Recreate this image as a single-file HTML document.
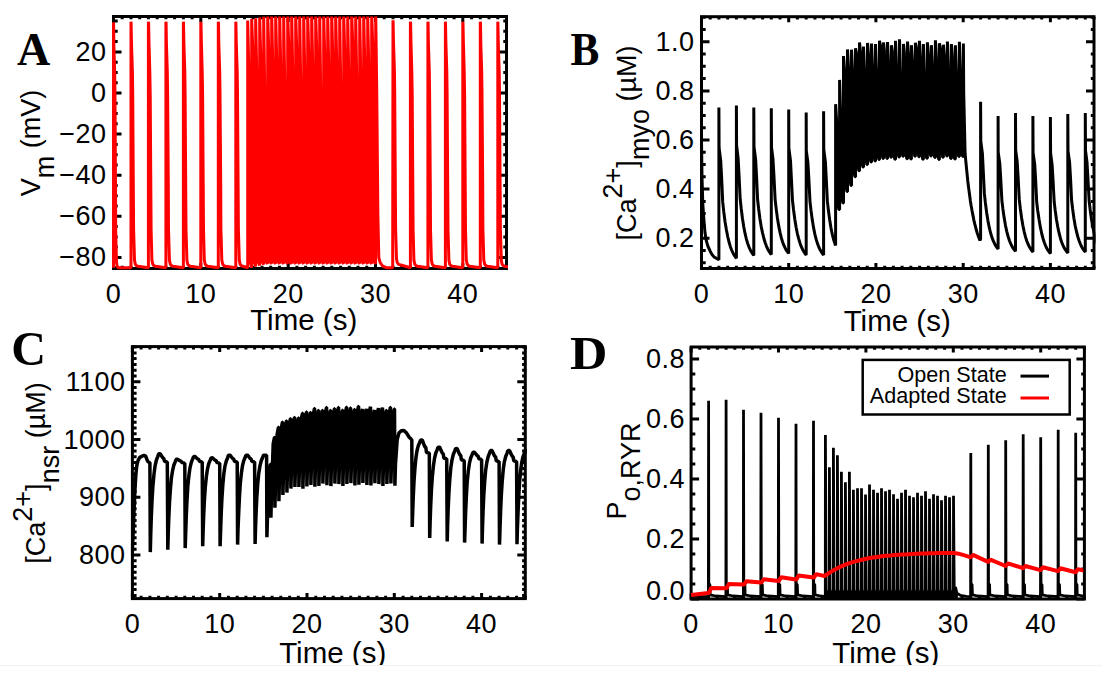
<!DOCTYPE html>
<html><head><meta charset="utf-8"><style>
html,body{margin:0;padding:0;background:#fff;}
svg{display:block;}
text{font-family:"Liberation Sans",sans-serif;fill:#000;}
.tk{font-size:27px;letter-spacing:0.5px;}
.yt{font-size:27px;}
.tt{font-size:29.5px;}
.pl{font-family:"Liberation Serif",serif;font-weight:bold;font-size:46px;}
</style></head><body>
<svg width="1102" height="675" viewBox="0 0 1102 675">
<rect width="1102" height="675" fill="#fff"/>
<defs>
<clipPath id="cA"><rect x="112" y="16.5" width="396" height="253.5"/></clipPath>
<clipPath id="cB"><rect x="700" y="16.7" width="395.5" height="253.3"/></clipPath>
<clipPath id="cC"><rect x="130.9" y="346.6" width="395.9" height="253.5"/></clipPath>
<clipPath id="cD"><rect x="689.6" y="347" width="393.8" height="253.5"/></clipPath>
</defs>
<rect x="113.5" y="16.5" width="393" height="252" fill="none" stroke="#000" stroke-width="3"/>
<path d="M113.5 268.5v-5.5M113.5 16.5v5.5M122.2 268.5v-2.8M122.2 16.5v2.8M131 268.5v-2.8M131 16.5v2.8M139.7 268.5v-2.8M139.7 16.5v2.8M148.4 268.5v-2.8M148.4 16.5v2.8M157.2 268.5v-2.8M157.2 16.5v2.8M165.9 268.5v-2.8M165.9 16.5v2.8M174.6 268.5v-2.8M174.6 16.5v2.8M183.4 268.5v-2.8M183.4 16.5v2.8M192.1 268.5v-2.8M192.1 16.5v2.8M200.8 268.5v-5.5M200.8 16.5v5.5M209.6 268.5v-2.8M209.6 16.5v2.8M218.3 268.5v-2.8M218.3 16.5v2.8M227 268.5v-2.8M227 16.5v2.8M235.8 268.5v-2.8M235.8 16.5v2.8M244.5 268.5v-2.8M244.5 16.5v2.8M253.2 268.5v-2.8M253.2 16.5v2.8M262 268.5v-2.8M262 16.5v2.8M270.7 268.5v-2.8M270.7 16.5v2.8M279.4 268.5v-2.8M279.4 16.5v2.8M288.2 268.5v-5.5M288.2 16.5v5.5M296.9 268.5v-2.8M296.9 16.5v2.8M305.6 268.5v-2.8M305.6 16.5v2.8M314.4 268.5v-2.8M314.4 16.5v2.8M323.1 268.5v-2.8M323.1 16.5v2.8M331.8 268.5v-2.8M331.8 16.5v2.8M340.6 268.5v-2.8M340.6 16.5v2.8M349.3 268.5v-2.8M349.3 16.5v2.8M358 268.5v-2.8M358 16.5v2.8M366.8 268.5v-2.8M366.8 16.5v2.8M375.5 268.5v-5.5M375.5 16.5v5.5M384.2 268.5v-2.8M384.2 16.5v2.8M393 268.5v-2.8M393 16.5v2.8M401.7 268.5v-2.8M401.7 16.5v2.8M410.4 268.5v-2.8M410.4 16.5v2.8M419.2 268.5v-2.8M419.2 16.5v2.8M427.9 268.5v-2.8M427.9 16.5v2.8M436.6 268.5v-2.8M436.6 16.5v2.8M445.4 268.5v-2.8M445.4 16.5v2.8M454.1 268.5v-2.8M454.1 16.5v2.8M462.8 268.5v-5.5M462.8 16.5v5.5M471.6 268.5v-2.8M471.6 16.5v2.8M480.3 268.5v-2.8M480.3 16.5v2.8M489 268.5v-2.8M489 16.5v2.8M497.8 268.5v-2.8M497.8 16.5v2.8M506.5 268.5v-2.8M506.5 16.5v2.8M113.5 267.7h4.2M506.5 267.7h-3.2M113.5 257.4h4.2M506.5 257.4h-3.2M113.5 247.1h4.2M506.5 247.1h-3.2M113.5 236.9h4.2M506.5 236.9h-3.2M113.5 226.6h4.2M506.5 226.6h-3.2M113.5 216.3h4.2M506.5 216.3h-3.2M113.5 206h4.2M506.5 206h-3.2M113.5 195.8h4.2M506.5 195.8h-3.2M113.5 185.5h4.2M506.5 185.5h-3.2M113.5 175.2h4.2M506.5 175.2h-3.2M113.5 164.9h4.2M506.5 164.9h-3.2M113.5 154.7h4.2M506.5 154.7h-3.2M113.5 144.4h4.2M506.5 144.4h-3.2M113.5 134.1h4.2M506.5 134.1h-3.2M113.5 123.8h4.2M506.5 123.8h-3.2M113.5 113.5h4.2M506.5 113.5h-3.2M113.5 103.3h4.2M506.5 103.3h-3.2M113.5 93h4.2M506.5 93h-3.2M113.5 82.7h4.2M506.5 82.7h-3.2M113.5 72.5h4.2M506.5 72.5h-3.2M113.5 62.2h4.2M506.5 62.2h-3.2M113.5 51.9h4.2M506.5 51.9h-3.2M113.5 41.6h4.2M506.5 41.6h-3.2M113.5 31.3h4.2M506.5 31.3h-3.2M113.5 21.1h4.2M506.5 21.1h-3.2M113.5 257.4h8M506.5 257.4h-8M113.5 216.3h8M506.5 216.3h-8M113.5 175.2h8M506.5 175.2h-8M113.5 134.1h8M506.5 134.1h-8M113.5 93h8M506.5 93h-8M113.5 51.9h8M506.5 51.9h-8" stroke="#000" stroke-width="3" fill="none"/>
<rect x="701.5" y="16.7" width="392.5" height="251.8" fill="none" stroke="#000" stroke-width="3"/>
<path d="M701.5 268.5v-5.5M701.5 16.7v5.5M710.2 268.5v-2.8M710.2 16.7v2.8M718.9 268.5v-2.8M718.9 16.7v2.8M727.7 268.5v-2.8M727.7 16.7v2.8M736.4 268.5v-2.8M736.4 16.7v2.8M745.1 268.5v-2.8M745.1 16.7v2.8M753.8 268.5v-2.8M753.8 16.7v2.8M762.6 268.5v-2.8M762.6 16.7v2.8M771.3 268.5v-2.8M771.3 16.7v2.8M780 268.5v-2.8M780 16.7v2.8M788.7 268.5v-5.5M788.7 16.7v5.5M797.4 268.5v-2.8M797.4 16.7v2.8M806.2 268.5v-2.8M806.2 16.7v2.8M814.9 268.5v-2.8M814.9 16.7v2.8M823.6 268.5v-2.8M823.6 16.7v2.8M832.3 268.5v-2.8M832.3 16.7v2.8M841.1 268.5v-2.8M841.1 16.7v2.8M849.8 268.5v-2.8M849.8 16.7v2.8M858.5 268.5v-2.8M858.5 16.7v2.8M867.2 268.5v-2.8M867.2 16.7v2.8M875.9 268.5v-5.5M875.9 16.7v5.5M884.7 268.5v-2.8M884.7 16.7v2.8M893.4 268.5v-2.8M893.4 16.7v2.8M902.1 268.5v-2.8M902.1 16.7v2.8M910.8 268.5v-2.8M910.8 16.7v2.8M919.6 268.5v-2.8M919.6 16.7v2.8M928.3 268.5v-2.8M928.3 16.7v2.8M937 268.5v-2.8M937 16.7v2.8M945.7 268.5v-2.8M945.7 16.7v2.8M954.4 268.5v-2.8M954.4 16.7v2.8M963.2 268.5v-5.5M963.2 16.7v5.5M971.9 268.5v-2.8M971.9 16.7v2.8M980.6 268.5v-2.8M980.6 16.7v2.8M989.3 268.5v-2.8M989.3 16.7v2.8M998.1 268.5v-2.8M998.1 16.7v2.8M1006.8 268.5v-2.8M1006.8 16.7v2.8M1015.5 268.5v-2.8M1015.5 16.7v2.8M1024.2 268.5v-2.8M1024.2 16.7v2.8M1032.9 268.5v-2.8M1032.9 16.7v2.8M1041.7 268.5v-2.8M1041.7 16.7v2.8M1050.4 268.5v-5.5M1050.4 16.7v5.5M1059.1 268.5v-2.8M1059.1 16.7v2.8M1067.8 268.5v-2.8M1067.8 16.7v2.8M1076.6 268.5v-2.8M1076.6 16.7v2.8M1085.3 268.5v-2.8M1085.3 16.7v2.8M1094 268.5v-2.8M1094 16.7v2.8M701.5 262.8h4.2M1094 262.8h-3.2M701.5 250.5h4.2M1094 250.5h-3.2M701.5 238.2h4.2M1094 238.2h-3.2M701.5 225.9h4.2M1094 225.9h-3.2M701.5 213.6h4.2M1094 213.6h-3.2M701.5 201.4h4.2M1094 201.4h-3.2M701.5 189.1h4.2M1094 189.1h-3.2M701.5 176.8h4.2M1094 176.8h-3.2M701.5 164.6h4.2M1094 164.6h-3.2M701.5 152.3h4.2M1094 152.3h-3.2M701.5 140h4.2M1094 140h-3.2M701.5 127.7h4.2M1094 127.7h-3.2M701.5 115.5h4.2M1094 115.5h-3.2M701.5 103.2h4.2M1094 103.2h-3.2M701.5 90.9h4.2M1094 90.9h-3.2M701.5 78.6h4.2M1094 78.6h-3.2M701.5 66.3h4.2M1094 66.3h-3.2M701.5 54.1h4.2M1094 54.1h-3.2M701.5 41.8h4.2M1094 41.8h-3.2M701.5 29.5h4.2M1094 29.5h-3.2M701.5 17.2h4.2M1094 17.2h-3.2M701.5 238.2h8M1094 238.2h-8M701.5 189.1h8M1094 189.1h-8M701.5 140h8M1094 140h-8M701.5 90.9h8M1094 90.9h-8M701.5 41.8h8M1094 41.8h-8" stroke="#000" stroke-width="3" fill="none"/>
<rect x="132.4" y="346.6" width="392.9" height="252" fill="none" stroke="#000" stroke-width="3"/>
<path d="M132.4 598.6v-5.5M132.4 346.6v5.5M141.1 598.6v-2.8M141.1 346.6v2.8M149.9 598.6v-2.8M149.9 346.6v2.8M158.6 598.6v-2.8M158.6 346.6v2.8M167.3 598.6v-2.8M167.3 346.6v2.8M176.1 598.6v-2.8M176.1 346.6v2.8M184.8 598.6v-2.8M184.8 346.6v2.8M193.5 598.6v-2.8M193.5 346.6v2.8M202.2 598.6v-2.8M202.2 346.6v2.8M211 598.6v-2.8M211 346.6v2.8M219.7 598.6v-5.5M219.7 346.6v5.5M228.4 598.6v-2.8M228.4 346.6v2.8M237.2 598.6v-2.8M237.2 346.6v2.8M245.9 598.6v-2.8M245.9 346.6v2.8M254.6 598.6v-2.8M254.6 346.6v2.8M263.4 598.6v-2.8M263.4 346.6v2.8M272.1 598.6v-2.8M272.1 346.6v2.8M280.8 598.6v-2.8M280.8 346.6v2.8M289.6 598.6v-2.8M289.6 346.6v2.8M298.3 598.6v-2.8M298.3 346.6v2.8M307 598.6v-5.5M307 346.6v5.5M315.8 598.6v-2.8M315.8 346.6v2.8M324.5 598.6v-2.8M324.5 346.6v2.8M333.2 598.6v-2.8M333.2 346.6v2.8M341.9 598.6v-2.8M341.9 346.6v2.8M350.7 598.6v-2.8M350.7 346.6v2.8M359.4 598.6v-2.8M359.4 346.6v2.8M368.1 598.6v-2.8M368.1 346.6v2.8M376.9 598.6v-2.8M376.9 346.6v2.8M385.6 598.6v-2.8M385.6 346.6v2.8M394.3 598.6v-5.5M394.3 346.6v5.5M403.1 598.6v-2.8M403.1 346.6v2.8M411.8 598.6v-2.8M411.8 346.6v2.8M420.5 598.6v-2.8M420.5 346.6v2.8M429.3 598.6v-2.8M429.3 346.6v2.8M438 598.6v-2.8M438 346.6v2.8M446.7 598.6v-2.8M446.7 346.6v2.8M455.5 598.6v-2.8M455.5 346.6v2.8M464.2 598.6v-2.8M464.2 346.6v2.8M472.9 598.6v-2.8M472.9 346.6v2.8M481.6 598.6v-5.5M481.6 346.6v5.5M490.4 598.6v-2.8M490.4 346.6v2.8M499.1 598.6v-2.8M499.1 346.6v2.8M507.8 598.6v-2.8M507.8 346.6v2.8M516.6 598.6v-2.8M516.6 346.6v2.8M525.3 598.6v-2.8M525.3 346.6v2.8M132.4 595.4h4.2M525.3 595.4h-3.2M132.4 589.6h4.2M525.3 589.6h-3.2M132.4 583.9h4.2M525.3 583.9h-3.2M132.4 578.1h4.2M525.3 578.1h-3.2M132.4 572.3h4.2M525.3 572.3h-3.2M132.4 566.5h4.2M525.3 566.5h-3.2M132.4 560.8h4.2M525.3 560.8h-3.2M132.4 555h4.2M525.3 555h-3.2M132.4 549.2h4.2M525.3 549.2h-3.2M132.4 543.5h4.2M525.3 543.5h-3.2M132.4 537.7h4.2M525.3 537.7h-3.2M132.4 531.9h4.2M525.3 531.9h-3.2M132.4 526.1h4.2M525.3 526.1h-3.2M132.4 520.4h4.2M525.3 520.4h-3.2M132.4 514.6h4.2M525.3 514.6h-3.2M132.4 508.8h4.2M525.3 508.8h-3.2M132.4 503h4.2M525.3 503h-3.2M132.4 497.2h4.2M525.3 497.2h-3.2M132.4 491.5h4.2M525.3 491.5h-3.2M132.4 485.7h4.2M525.3 485.7h-3.2M132.4 479.9h4.2M525.3 479.9h-3.2M132.4 474.1h4.2M525.3 474.1h-3.2M132.4 468.4h4.2M525.3 468.4h-3.2M132.4 462.6h4.2M525.3 462.6h-3.2M132.4 456.8h4.2M525.3 456.8h-3.2M132.4 451.1h4.2M525.3 451.1h-3.2M132.4 445.3h4.2M525.3 445.3h-3.2M132.4 439.5h4.2M525.3 439.5h-3.2M132.4 433.7h4.2M525.3 433.7h-3.2M132.4 427.9h4.2M525.3 427.9h-3.2M132.4 422.2h4.2M525.3 422.2h-3.2M132.4 416.4h4.2M525.3 416.4h-3.2M132.4 410.6h4.2M525.3 410.6h-3.2M132.4 404.9h4.2M525.3 404.9h-3.2M132.4 399.1h4.2M525.3 399.1h-3.2M132.4 393.3h4.2M525.3 393.3h-3.2M132.4 387.5h4.2M525.3 387.5h-3.2M132.4 381.8h4.2M525.3 381.8h-3.2M132.4 376h4.2M525.3 376h-3.2M132.4 370.2h4.2M525.3 370.2h-3.2M132.4 364.4h4.2M525.3 364.4h-3.2M132.4 358.6h4.2M525.3 358.6h-3.2M132.4 352.9h4.2M525.3 352.9h-3.2M132.4 347.1h4.2M525.3 347.1h-3.2M132.4 555h8M525.3 555h-8M132.4 497.2h8M525.3 497.2h-8M132.4 439.5h8M525.3 439.5h-8M132.4 381.8h8M525.3 381.8h-8" stroke="#000" stroke-width="3" fill="none"/>
<rect x="691.1" y="347" width="393.3" height="252" fill="none" stroke="#000" stroke-width="3"/>
<path d="M691.1 599v-5.5M691.1 347v5.5M699.8 599v-2.8M699.8 347v2.8M708.6 599v-2.8M708.6 347v2.8M717.3 599v-2.8M717.3 347v2.8M726.1 599v-2.8M726.1 347v2.8M734.8 599v-2.8M734.8 347v2.8M743.5 599v-2.8M743.5 347v2.8M752.3 599v-2.8M752.3 347v2.8M761 599v-2.8M761 347v2.8M769.8 599v-2.8M769.8 347v2.8M778.5 599v-5.5M778.5 347v5.5M787.2 599v-2.8M787.2 347v2.8M796 599v-2.8M796 347v2.8M804.7 599v-2.8M804.7 347v2.8M813.5 599v-2.8M813.5 347v2.8M822.2 599v-2.8M822.2 347v2.8M830.9 599v-2.8M830.9 347v2.8M839.7 599v-2.8M839.7 347v2.8M848.4 599v-2.8M848.4 347v2.8M857.2 599v-2.8M857.2 347v2.8M865.9 599v-5.5M865.9 347v5.5M874.6 599v-2.8M874.6 347v2.8M883.4 599v-2.8M883.4 347v2.8M892.1 599v-2.8M892.1 347v2.8M900.9 599v-2.8M900.9 347v2.8M909.6 599v-2.8M909.6 347v2.8M918.3 599v-2.8M918.3 347v2.8M927.1 599v-2.8M927.1 347v2.8M935.8 599v-2.8M935.8 347v2.8M944.6 599v-2.8M944.6 347v2.8M953.3 599v-5.5M953.3 347v5.5M962 599v-2.8M962 347v2.8M970.8 599v-2.8M970.8 347v2.8M979.5 599v-2.8M979.5 347v2.8M988.3 599v-2.8M988.3 347v2.8M997 599v-2.8M997 347v2.8M1005.7 599v-2.8M1005.7 347v2.8M1014.5 599v-2.8M1014.5 347v2.8M1023.2 599v-2.8M1023.2 347v2.8M1032 599v-2.8M1032 347v2.8M1040.7 599v-5.5M1040.7 347v5.5M1049.4 599v-2.8M1049.4 347v2.8M1058.2 599v-2.8M1058.2 347v2.8M1066.9 599v-2.8M1066.9 347v2.8M1075.7 599v-2.8M1075.7 347v2.8M1084.4 599v-2.8M1084.4 347v2.8M691.1 599h4.2M1084.4 599h-3.2M691.1 584h4.2M1084.4 584h-3.2M691.1 569h4.2M1084.4 569h-3.2M691.1 554h4.2M1084.4 554h-3.2M691.1 539h4.2M1084.4 539h-3.2M691.1 524h4.2M1084.4 524h-3.2M691.1 509h4.2M1084.4 509h-3.2M691.1 494h4.2M1084.4 494h-3.2M691.1 479h4.2M1084.4 479h-3.2M691.1 464h4.2M1084.4 464h-3.2M691.1 449h4.2M1084.4 449h-3.2M691.1 434h4.2M1084.4 434h-3.2M691.1 419h4.2M1084.4 419h-3.2M691.1 404h4.2M1084.4 404h-3.2M691.1 389h4.2M1084.4 389h-3.2M691.1 374h4.2M1084.4 374h-3.2M691.1 359h4.2M1084.4 359h-3.2M691.1 599h8M1084.4 599h-8M691.1 539h8M1084.4 539h-8M691.1 479h8M1084.4 479h-8M691.1 419h8M1084.4 419h-8M691.1 359h8M1084.4 359h-8" stroke="#000" stroke-width="3" fill="none"/>
<g clip-path="url(#cA)"><path d="M113.5 267.7L113.5 22.3L113.6 25L113.9 45.5L114.7 73.9L115 95.9L115.5 186.3L115.7 231.5L116.5 262.3L117.2 266.4L118.3 267.7L119.4 267.7L131 267.7L131 21.7L131.1 22.7L131.5 43.3L132.4 71.6L132.7 93.6L133.3 184L133.6 229.2L134.5 260.1L135.3 264.2L136.6 265.8L138 266.2L148.4 267.7L148.4 21.7L148.6 22.7L149 43.3L149.8 71.6L150.2 93.6L150.8 184L151.1 229.2L151.9 260.1L152.8 264.2L154.1 265.8L155.4 266.2L165.9 267.7L165.9 21.7L166.1 22.7L166.4 43.3L167.3 71.6L167.6 93.6L168.3 184L168.5 229.2L169.4 260.1L170.3 264.2L171.6 265.8L172.9 266.2L183.4 267.7L183.4 21.7L183.5 22.7L183.9 43.3L184.8 71.6L185.1 93.6L185.7 184L186 229.2L186.9 260.1L187.7 264.2L189 265.8L190.4 266.2L200.8 267.7L200.8 21.7L201 22.7L201.4 43.3L202.2 71.6L202.6 93.6L203.2 184L203.5 229.2L204.3 260.1L205.2 264.2L206.5 265.8L207.8 266.2L218.3 267.7L218.3 21.7L218.5 22.7L218.8 43.3L219.7 71.6L220 93.6L220.7 184L220.9 229.2L221.8 260.1L222.7 264.2L224 265.8L225.3 266.2L235.8 267.7L235.8 21.7L235.9 22.7L236.3 43.3L237.2 71.6L237.5 93.6L238.1 184L238.4 229.2L239.3 260.1L240.1 264.2L241.4 265.8L242.8 266.2L247.7 267.7L247.7 20.5L248.7 64.2L249.5 216.3L250 253.3L250.5 262.5L251.6 267.7L251.7 18.8L252.7 47.3L253.5 216.3L254 253.3L254.5 262.5L255.6 266.6L255.7 18.2L256.7 71.6L257.5 216.3L258 253.3L258.5 262.5L259.6 265.6L259.7 17.4L260.7 55.4L261.5 216.3L262 253.3L262.5 262.5L263.6 264.6L263.7 16.3L264.7 89.4L265.5 216.3L266 253.3L266.5 262.5L267.6 263.6L267.7 12.9L268.7 48.8L269.5 216.3L270 253.3L270.5 262.5L271.6 263.6L271.7 12.9L272.7 61.7L273.5 216.3L274 253.3L274.5 262.5L275.6 263.6L275.7 12.9L276.7 60.1L277.5 216.3L278 253.3L278.5 262.5L279.6 263.6L279.7 12.9L280.7 66.5L281.5 216.3L282 253.3L282.5 262.5L283.6 263.6L283.7 12.9L284.7 84.2L285.5 216.3L286 253.3L286.5 262.5L287.6 263.6L287.7 12.9L288.7 44.2L289.5 216.3L290 253.3L290.5 262.5L291.6 263.6L291.7 12.9L292.7 70.4L293.5 216.3L294 253.3L294.5 262.5L295.6 263.6L295.7 12.9L296.7 49.4L297.5 216.3L298 253.3L298.5 262.5L299.6 263.6L299.7 12.9L300.7 82.3L301.5 216.3L302 253.3L302.5 262.5L303.6 263.6L303.7 12.9L304.7 68.8L305.5 216.3L306 253.3L306.5 262.5L307.6 263.6L307.7 12.9L308.7 52.5L309.5 216.3L310 253.3L310.5 262.5L311.6 263.6L311.7 12.9L312.7 66.3L313.5 216.3L314 253.3L314.5 262.5L315.6 263.6L315.7 12.9L316.7 49.9L317.5 216.3L318 253.3L318.5 262.5L319.6 263.6L319.7 12.9L320.7 90.7L321.5 216.3L322 253.3L322.5 262.5L323.6 263.6L323.7 12.9L324.7 54.4L325.5 216.3L326 253.3L326.5 262.5L327.6 263.6L327.7 12.9L328.7 65.6L329.5 216.3L330 253.3L330.5 262.5L331.6 263.6L331.7 12.9L332.7 53.3L333.5 216.3L334 253.3L334.5 262.5L335.6 263.6L335.7 12.9L336.7 62.8L337.5 216.3L338 253.3L338.5 262.5L339.6 263.6L339.7 12.9L340.7 85.5L341.5 216.3L342 253.3L342.5 262.5L343.6 263.6L343.7 12.9L344.7 51.3L345.5 216.3L346 253.3L346.5 262.5L347.6 263.6L347.7 12.9L348.7 71.6L349.5 216.3L350 253.3L350.5 262.5L351.6 263.6L351.7 12.9L352.7 42.6L353.5 216.3L354 253.3L354.5 262.5L355.6 263.6L355.7 12.9L356.7 79.4L357.5 216.3L358 253.3L358.5 262.5L359.6 263.6L359.7 12.9L360.7 70.8L361.4 216.3L362 253.3L362.5 262.5L363.6 263.6L363.7 12.9L364.7 60.3L365.4 216.3L366 253.3L366.5 262.5L367.6 263.6L367.7 12.9L368.7 64.7L369.4 216.3L370 253.3L370.5 262.5L371.6 263.6L371.7 12.9L372.7 44.1L373.4 216.3L374 253.3L374.5 262.5L375.6 263.6L375.7 12.9L376.7 87.7L377.9 216.3L378.8 257.4L380.1 262.5L382.7 266.2L386.2 267.7L392.7 267.7L393 20.3L393.1 21.3L393.5 41.8L394.4 70.2L394.7 92.2L395.3 182.6L395.6 227.8L396.5 258.6L397.3 262.7L398.6 264.4L400 264.8L410.4 267.7L410.4 21.7L410.6 22.7L411 43.3L411.8 71.6L412.2 93.6L412.8 184L413.1 229.2L413.9 260.1L414.8 264.2L416.1 265.8L417.4 266.2L427.9 267.7L427.9 21.7L428.1 22.7L428.4 43.3L429.3 71.6L429.6 93.6L430.3 184L430.5 229.2L431.4 260.1L432.3 264.2L433.6 265.8L434.9 266.2L445.4 267.7L445.4 21.7L445.5 22.7L445.9 43.3L446.8 71.6L447.1 93.6L447.7 184L448 229.2L448.9 260.1L449.7 264.2L451 265.8L452.4 266.2L462.8 267.7L462.8 21.7L463 22.7L463.4 43.3L464.2 71.6L464.6 93.6L465.2 184L465.5 229.2L466.3 260.1L467.2 264.2L468.5 265.8L469.8 266.2L480.3 267.7L480.3 21.7L480.5 22.7L480.8 43.3L481.7 71.6L482 93.6L482.7 184L482.9 229.2L483.8 260.1L484.7 264.2L486 265.8L487.3 266.2L497.8 267.7L497.8 21.7L497.9 22.7L498.3 43.3L499.2 71.6L499.5 93.6L500.1 184L500.4 229.2L501.3 260.1L502.1 264.2L503.4 265.8L504.8 266.2L510.9 267.7" fill="none" stroke="#f00" stroke-width="3" stroke-linejoin="bevel"/></g>
<g clip-path="url(#cB)"><path d="M701.5 140L702 176.8L702.8 203.8L703.7 217.3L705 232.8L706.3 240.7L708 246.5L710.2 251.2L712 254.6L714.1 256.9L716.3 258.3L718.9 259.8L718.9 107.6L719.1 147.9L720.7 160.5L721.6 177.1L722.7 201.9L723.7 211.2L725 221.5L726.4 229.8L727.7 236.5L729 242L730.3 246.4L731.6 250L732.9 252.9L734.2 255.3L735.5 257.3L736.4 258.3L736.4 105.4L736.6 145.5L738.1 158.1L739 174.6L740.2 199.2L741.2 208.5L742.5 218.7L743.8 227L745.1 233.7L746.4 239.1L747.7 243.5L749 247.1L750.3 250L751.7 252.4L753 254.3L753.8 255.4L753.8 107.6L754 146.8L755.6 159.1L756.5 175.3L757.6 199.5L758.6 208.5L759.9 218.5L761.2 226.6L762.6 233.1L763.9 238.5L765.2 242.8L766.5 246.3L767.8 249.2L769.1 251.5L770.4 253.4L771.3 254.4L771.3 108.3L771.5 147.1L773 159.3L773.9 175.2L775.1 199.1L776.1 208.1L777.4 217.9L778.7 225.9L780 232.4L781.3 237.7L782.6 241.9L783.9 245.4L785.2 248.2L786.5 250.5L787.9 252.4L788.7 253.4L788.7 109.6L788.9 148.4L790.5 160.6L791.3 176.6L792.5 200.5L793.5 209.5L794.8 219.3L796.1 227.3L797.4 233.8L798.8 239.1L800.1 243.4L801.4 246.9L802.7 249.7L804 252L805.3 253.9L806.2 254.9L806.2 112.5L806.3 150.6L807.9 162.5L808.8 178.2L810 201.6L811 210.4L812.3 220.1L813.6 227.9L814.9 234.3L816.2 239.4L817.5 243.6L818.8 247L820.1 249.8L821.4 252L822.7 253.9L823.6 254.9L823.6 111.3L823.8 149.8L825.4 161.8L826.2 177.7L827.4 201.4L828.4 210.3L829.7 220L831 228L832.3 234.4L833.6 239.6L835 243.9L835.6 245.6L835.6 104.2L836.5 118.9L838.5 207L838.9 209.5L839.6 209.5L839.6 79.9L840.5 108.8L842.5 200.6L842.9 203.1L843.5 203.1L843.5 56L844.5 69.4L846.5 189.1L846.9 191.6L847.5 191.6L847.5 49.4L848.5 67.5L850.5 183L850.9 185.4L851.5 185.4L851.5 49.7L852.5 69.5L854.5 174.4L854.9 176.8L855.5 176.8L855.5 48.2L856.5 53.1L858.5 168.2L858.8 170.7L859.5 170.7L859.5 42.5L860.5 51.9L862.5 164.6L862.8 167L863.5 167L863.5 46.5L864.5 69.6L866.5 162.1L866.8 164.6L867.5 164.6L867.5 43L868.5 54.9L870.5 159.6L870.8 162.1L871.5 162.1L871.5 43.5L872.5 65.9L874.5 158.4L874.8 160.9L875.5 160.9L875.5 44L876.5 70L878.5 157.2L878.8 159.6L879.5 159.6L879.5 40.8L880.5 45.7L882.5 156L882.8 158.4L883.5 158.4L883.5 42.5L884.4 50.7L886.5 156L886.8 158.4L887.5 158.4L887.5 42L888.4 59.3L890.4 154.7L890.8 157.2L891.5 157.2L891.5 45.2L892.4 51.4L894.4 156.9L894.8 159.3L895.5 159.3L895.5 40.8L896.4 62.3L898.4 154.6L898.8 157.1L899.5 157.1L899.5 39.3L900.4 69.2L902.4 153.7L902.8 156.2L903.5 156.2L903.5 44L904.4 52.7L906.4 156.2L906.8 158.7L907.5 158.7L907.5 41.6L908.4 53.8L910.4 156.5L910.8 158.9L911.4 158.9L911.4 45.2L912.4 60.7L914.4 153.9L914.8 156.3L915.4 156.3L915.4 42.8L916.4 47.7L918.4 154.3L918.8 156.8L919.4 156.8L919.4 40.8L920.4 57.1L922.4 156.8L922.7 159.2L923.4 159.2L923.4 44L924.4 72.6L926.4 155.7L926.7 158.2L927.4 158.2L927.4 42.3L928.4 55L930.4 153.5L930.7 156L931.4 156L931.4 45.2L932.4 64.1L934.4 155.2L934.7 157.6L935.4 157.6L935.4 40.3L936.4 59.2L938.4 156.9L938.7 159.4L939.4 159.4L939.4 43.3L940.4 48.2L942.4 154.8L942.7 157.3L943.4 157.3L943.4 44.7L944.4 55.5L946.4 153.6L946.7 156.1L947.4 156.1L947.4 41.6L948.3 64.4L950.4 156L950.7 158.5L951.4 158.5L951.4 44L952.3 55.6L954.3 156.6L954.7 159.1L955.4 159.1L955.4 45.2L956.3 68.7L958.3 154.1L958.7 156.5L959.4 156.5L959.4 41.8L960.3 66.8L962.3 154.1L962.7 156.6L963.4 156.6L963.4 43.5L963.7 92.6L965.1 153.5L966 163.2L966.9 172.1L967.7 180.2L968.6 187.6L969.5 194.3L970.3 200.4L971.2 206L972.1 211L973 215.6L973.8 219.8L974.7 223.7L975.6 227.2L976.4 230.3L977.3 233.2L978.2 235.9L979.1 238.3L979.9 240.4L980.6 238.9L980.6 101.7L980.8 141.1L982.4 153.4L983.2 169.6L984.4 193.9L985.4 203L986.7 213L988 221.1L989.3 227.7L990.6 233L991.9 237.4L993.3 240.9L994.6 243.7L995.9 246.1L997.2 247.9L998.1 249L998.1 115.9L998.2 152.1L999.8 163.4L1000.7 178.3L1001.9 200.6L1002.9 209L1004.2 218.1L1005.5 225.6L1006.8 231.6L1008.1 236.5L1009.4 240.5L1010.7 243.7L1012 246.4L1013.3 248.5L1014.6 250.2L1015.5 251.2L1015.5 113L1015.7 150.1L1017.2 161.8L1018.1 177.1L1019.3 199.9L1020.3 208.5L1021.6 218L1022.9 225.6L1024.2 231.8L1025.5 236.9L1026.8 241L1028.1 244.3L1029.5 247L1030.8 249.2L1032.1 251L1032.9 251.9L1032.9 115.9L1033.1 152.7L1034.7 164.2L1035.6 179.3L1036.7 202L1037.7 210.5L1039.1 219.8L1040.4 227.4L1041.7 233.5L1043 238.5L1044.3 242.5L1045.6 245.8L1046.9 248.5L1048.2 250.7L1049.5 252.4L1050.4 253.4L1050.4 116.9L1050.6 153.3L1052.1 164.7L1053 179.6L1054.2 202L1055.2 210.4L1056.5 219.7L1057.8 227.1L1059.1 233.2L1060.4 238.2L1061.7 242.2L1063 245.4L1064.3 248.1L1065.7 250.2L1067 252L1067.8 252.9L1067.8 114L1068 150.9L1069.6 162.4L1070.5 177.6L1071.6 200.3L1072.6 208.8L1073.9 218.2L1075.2 225.8L1076.6 232L1077.9 237L1079.2 241L1080.5 244.3L1081.8 247L1083.1 249.2L1084.4 251L1085.3 251.9L1085.3 113L1085.5 150.4L1087 162.1L1087.9 177.5L1089.1 200.6L1090.1 209.2L1091.4 218.7L1092.7 226.4L1094 232.7L1095.3 237.7L1096.6 241.9L1097.9 245.2L1099.2 247.9L1100.5 250.1L1101.8 251.9L1102.7 252.9" fill="none" stroke="#000" stroke-width="3" stroke-linejoin="bevel"/></g>
<g clip-path="url(#cC)"><path d="M132.2 555L133.3 529L134.1 508.8L135 488.6L135.9 474.1L136.8 465.5L138.1 460.3L139.8 457.4L142 456.2L144.2 455.4L145.5 455.8L146.4 458L147.7 461.4L148.6 462L149.6 462.6L149.9 462.6L150.3 552.1L150.7 535.7L151.3 517.1L152 500.9L152.9 486.1L154 474.1L155.1 465.8L156.4 460L157.7 456.6L158.6 454.1L159.5 453.7L160.3 453.9L161.6 456L163 458L163.8 458.3L164.5 461.4L166 461.7L167.1 462L167.3 462L167.8 549.8L168.2 534.7L168.8 517.6L169.5 502.7L170.4 489.1L171.4 478.1L172.6 470.4L173.9 465L175.2 461.9L176.1 459.5L176.9 459.2L177.8 459.4L179.1 460.2L180.4 461.1L181.3 461.2L182 462.6L183.5 462.9L184.5 463.2L184.8 463.2L185.2 548.1L185.7 532.8L186.3 515.5L187 500.4L187.8 486.7L188.9 475.5L190 467.8L191.3 462.4L192.6 459.2L193.5 456.8L194.4 456.5L195.3 456.7L196.6 458L197.9 459.2L198.8 459.5L199.5 461.4L200.9 461.7L202 462L202.2 462L202.7 546.3L203.1 531.6L203.7 514.9L204.4 500.3L205.3 487L206.4 476.3L207.5 468.8L208.8 463.5L210.1 460.5L211 458.2L211.9 457.8L212.7 458L214 459.2L215.3 460.4L216.2 460.7L216.9 462.6L218.4 462.9L219.4 463.2L219.7 463.2L220.1 546.3L220.6 531.1L221.2 513.9L221.9 498.9L222.8 485.2L223.8 474.1L224.9 466.4L226.3 461L227.6 457.8L228.4 455.4L229.3 455.1L230.2 455.3L231.5 457L232.8 458.6L233.7 458.9L234.4 461.4L235.9 461.7L236.9 462L237.2 462L237.6 544.6L238 529.7L238.7 512.8L239.4 498L240.2 484.6L241.3 473.7L242.4 466.2L243.7 460.9L245 457.8L245.9 455.4L246.8 455.1L247.7 455.3L249 457L250.3 458.6L251.1 458.9L251.8 461.4L253.3 461.7L254.4 462L254.6 462L255.1 544L255.5 529.2L256.1 512.4L256.8 497.8L257.7 484.4L258.7 473.6L259.9 466.1L261.2 460.8L262.5 457.8L263.4 455.4L264.2 455.1L265.1 455.3L266.6 455.3L266.9 537.3L267.6 511.8L269.2 470.1L270.5 464.3L270.6 464.3L270.9 517.6L271.6 489.5L273.2 443.8L274.5 437.4L274.6 437.4L274.9 507.7L275.6 479.6L277.2 433.8L278.5 427.3L278.6 427.3L278.9 501.2L279.6 473.6L281.2 428.5L282.5 422.2L282.6 422.2L282.9 494.9L283.6 469.1L285.2 426.9L286.5 421L286.6 421L286.9 492.6L287.6 466.8L289.2 424.6L290.5 418.7L290.6 418.7L290.9 488.6L291.6 463.7L293.2 423.2L294.5 417.6L294.6 417.6L294.9 487L295.6 462.9L297.2 423.6L298.5 418.1L298.6 418.1L298.9 486.9L299.6 461.2L301.2 419.2L302.5 413.3L302.6 413.3L302.9 488.7L303.6 461.8L305.2 418.1L306.5 412L306.6 412L306.9 486.5L307.6 460.7L309.2 418.5L310.5 412.6L310.6 412.6L310.9 485L311.6 458.2L313.2 414.6L314.5 408.5L314.6 408.5L314.9 486.8L315.6 460.1L317.2 416.5L318.5 410.4L318.6 410.4L318.9 485.9L319.6 459.5L321.2 416.5L322.5 410.4L322.6 410.4L322.9 483.6L323.6 457L325.2 413.7L326.5 407.6L326.6 407.6L326.9 485.3L327.6 459.1L329.2 416.4L330.5 410.5L330.6 410.5L330.9 486.1L331.6 459L333.2 414.9L334.5 408.7L334.6 408.7L334.9 483.6L335.6 457L337.2 413.6L338.5 407.5L338.6 407.5L338.9 484.1L339.6 458.3L341.2 416.2L342.5 410.3L342.6 410.3L342.9 485.9L343.6 458.4L345.2 413.6L346.5 407.3L346.6 407.3L346.9 483.9L347.6 457.4L349.2 414.2L350.5 408.1L350.6 408.1L350.9 483.1L351.6 457.4L353.2 415.5L354.5 409.6L354.6 409.6L354.9 485.5L355.6 457.8L357.2 412.7L358.5 406.4L358.6 406.4L358.9 484.7L359.6 458.2L361.2 415L362.5 408.9L362.5 408.9L362.9 482.9L363.6 457L365.2 414.7L366.5 408.8L366.5 408.8L366.9 484.9L367.6 457.5L369.2 412.9L370.5 406.7L370.5 406.7L370.9 485.5L371.6 459L373.2 416L374.5 409.9L374.5 409.9L374.9 483.2L375.6 456.9L377.2 414L378.5 408L378.5 408L378.9 484.1L379.6 457.4L381.2 413.8L382.5 407.6L382.5 407.6L382.9 485.9L383.6 459.5L385.2 416.4L386.4 410.4L386.5 410.4L386.9 483.9L387.6 457.1L389.2 413.6L390.4 407.4L390.5 407.4L390.9 483.5L391.6 457.4L393.2 414.9L394.4 409L394.5 409L394.9 485.8L395.6 459.3L395.6 462.6L397.2 439.5L398.9 433.1L401.3 430.8L403.9 430.5L406.6 433.1L409.2 437.2L411.6 439.5L411.8 439.5L412.2 526.9L412.7 512.4L413.3 496L414 481.7L414.9 468.6L415.9 458.1L417 450.7L418.3 445.6L419.7 442.5L420.5 440.3L421.4 439.9L422.3 440.1L423.6 443.7L424.9 446.8L425.8 447.5L426.5 452.5L427.9 452.8L429 453.1L429.3 453.1L429.7 538L430.1 522.9L430.7 505.7L431.4 490.7L432.3 477.1L433.4 466.1L434.5 458.4L435.8 453L437.1 449.8L438 447.5L438.9 447.1L439.7 447.3L441 450.4L442.4 453.2L443.2 453.8L443.9 458.2L445.4 458.5L446.5 458.8L446.7 458.8L447.2 541.4L447.6 525.9L448.2 508.4L448.9 493.1L449.8 479.2L450.8 467.8L452 460L453.3 454.5L454.6 451.3L455.5 448.9L456.3 448.5L457.2 448.7L458.5 451.9L459.8 454.8L460.7 455.3L461.4 459.9L462.9 460.2L463.9 460.5L464.2 460.5L464.6 542.6L465.1 527.6L465.7 510.5L466.4 495.6L467.2 482L468.3 471L469.4 463.4L470.7 458L472 454.9L472.9 452.6L473.8 452.2L474.7 452.4L476 454.2L477.3 455.8L478.2 456.2L478.9 458.8L480.3 459.1L481.4 459.4L481.6 459.4L482.1 543.6L482.5 528.1L483.1 510.5L483.8 495.2L484.7 481.2L485.7 469.9L486.9 462L488.2 456.5L489.5 453.2L490.4 450.8L491.2 450.5L492.1 450.6L493.4 453.6L494.7 456.2L495.6 456.7L496.3 460.9L497.8 461.2L498.8 461.4L499.1 461.4L499.5 544.6L500 528.9L500.6 511.2L501.3 495.6L502.2 481.5L503.2 470.1L504.3 462.1L505.7 456.5L507 453.3L507.8 450.8L508.7 450.5L509.6 450.6L510.9 453.6L512.2 456.2L513.1 456.7L513.8 460.9L515.3 461.2L516.3 461.4L516.6 461.4L517 544.3L517.4 528.6L518.1 510.9L518.8 495.5L519.6 481.4L520.7 470L521.8 462.1L523.1 456.5L524.4 453.2L525.3 450.8L526.2 450.5L527 450.6L528.4 453.6L529.7 456.2L530.5 456.7L531.2 460.9L532.7 461.2L533.8 461.4" fill="none" stroke="#000" stroke-width="3.5" stroke-linejoin="bevel"/></g>
<g clip-path="url(#cD)"><path d="M691.1 596.3L708.4 596.6L708.6 400.7L708.8 584L709.9 584.6L710.2 594.8L715.6 596L725.8 596.6L725.9 596.6L726.1 399.8L726.3 584L727.4 584.6L727.6 594.8L733.1 596L743.3 596.6L743.4 596.6L743.5 409.7L743.8 584L744.9 584.6L745.1 594.8L750.5 596L760.8 596.6L760.8 596.6L761 412.7L761.3 584L762.3 584.6L762.6 594.8L768 596L778.2 596.6L778.3 596.6L778.5 417.8L778.8 584L779.8 584.6L780.1 594.8L785.5 596L795.7 596.6L795.8 596.6L796 423.8L796.2 584L797.3 584.6L797.6 594.8L803 596L813.2 596.6L813.3 596.6L813.5 420.8L813.7 584L814.8 584.6L815 594.8L820.5 596L825.2 596.6L825.3 597.8L825.4 434.9L826.1 588.5L826.8 597.8L827.7 590.6L828.6 597.8L829.2 593L829.3 597.8L829.4 467.3L830.1 588.5L830.8 597.8L831.7 590.6L832.6 597.8L833.2 593L833.4 597.8L833.4 447.8L834.1 588.5L834.8 597.8L835.7 590.6L836.6 597.8L837.2 593L837.4 597.8L837.4 455.3L838.1 588.5L838.8 597.8L839.7 590.6L840.6 597.8L841.2 593L841.4 597.8L841.4 471.8L842.1 588.5L842.8 597.8L843.7 590.6L844.6 597.8L845.2 593L845.4 597.8L845.4 482.3L846.1 588.5L846.8 597.8L847.7 590.6L848.6 597.8L849.2 593L849.4 597.8L849.4 471.8L850.1 588.5L850.8 597.8L851.7 590.6L852.6 597.8L853.2 593L853.4 597.8L853.4 489.8L854.1 588.5L854.8 597.8L855.7 590.6L856.6 597.8L857.2 593L857.4 597.8L857.5 488.3L858.1 588.5L858.8 597.8L859.7 590.6L860.6 597.8L861.2 593L861.4 597.8L861.5 488.3L862.2 588.5L862.9 597.8L863.7 590.6L864.6 597.8L865.2 593L865.4 597.8L865.5 494.6L866.2 588.5L866.9 597.8L867.7 590.6L868.6 597.8L869.2 593L869.4 597.8L869.5 484.4L870.2 588.5L870.9 597.8L871.7 590.6L872.6 597.8L873.2 593L873.4 597.8L873.5 489.8L874.2 588.5L874.9 597.8L875.7 590.6L876.6 597.8L877.2 593L877.4 597.8L877.5 492.8L878.2 588.5L878.9 597.8L879.7 590.6L880.6 597.8L881.2 593L881.4 597.8L881.5 488.3L882.2 588.5L882.9 597.8L883.7 590.6L884.6 597.8L885.2 593L885.4 597.8L885.5 491.3L886.2 588.5L886.9 597.8L887.7 590.6L888.6 597.8L889.2 593L889.4 597.8L889.5 489.8L890.2 588.5L890.9 597.8L891.7 590.6L892.6 597.8L893.2 593L893.4 597.8L893.5 494.3L894.2 588.5L894.9 597.8L895.7 590.6L896.6 597.8L897.2 593L897.4 597.8L897.5 498.8L898.2 588.5L898.9 597.8L899.7 590.6L900.6 597.8L901.2 593L901.4 597.8L901.5 492.8L902.2 588.5L902.9 597.8L903.7 590.6L904.6 597.8L905.2 593L905.4 597.8L905.5 489.8L906.2 588.5L906.9 597.8L907.7 590.6L908.6 597.8L909.2 593L909.4 597.8L909.5 495.8L910.2 588.5L910.9 597.8L911.7 590.6L912.6 597.8L913.2 593L913.4 597.8L913.5 497.3L914.2 588.5L914.9 597.8L915.8 590.6L916.6 597.8L917.2 593L917.4 597.8L917.5 492.8L918.2 588.5L918.9 597.8L919.8 590.6L920.6 597.8L921.2 593L921.4 597.8L921.5 495.8L922.2 588.5L922.9 597.8L923.8 590.6L924.6 597.8L925.2 593L925.4 597.8L925.5 491.3L926.2 588.5L926.9 597.8L927.8 590.6L928.6 597.8L929.2 593L929.4 597.8L929.5 498.8L930.2 588.5L930.9 597.8L931.8 590.6L932.6 597.8L933.2 593L933.4 597.8L933.5 494.3L934.2 588.5L934.9 597.8L935.8 590.6L936.6 597.8L937.2 593L937.4 597.8L937.5 495.8L938.2 588.5L938.9 597.8L939.8 590.6L940.6 597.8L941.2 593L941.4 597.8L941.5 500.3L942.2 588.5L942.9 597.8L943.8 590.6L944.6 597.8L945.2 593L945.4 597.8L945.5 495.8L946.2 588.5L946.9 597.8L947.8 590.6L948.6 597.8L949.2 593L949.4 597.8L949.5 497.3L950.2 588.5L950.9 597.8L951.8 590.6L952.6 597.8L953.2 593L953.4 597.8L953.5 495.8L954.2 588.5L954.9 597.8L955.8 590.6L956.6 597.8L955.2 593L955.5 587L956.8 593L960.3 595.4L966.4 596.3L970.6 596.6L970.8 452.9L971 584L972.1 584.6L972.4 594.8L977.8 596L988 596.6L988.1 596.6L988.3 444.8L988.5 584L989.6 584.6L989.8 594.8L995.3 596L1005.5 596.6L1005.6 596.6L1005.7 440.3L1006 584L1007.1 584.6L1007.3 594.8L1012.7 596L1023 596.6L1023 596.6L1023.2 434.3L1023.5 584L1024.5 584.6L1024.8 594.8L1030.2 596L1040.4 596.6L1040.5 596.6L1040.7 437.3L1041 584L1042 584.6L1042.3 594.8L1047.7 596L1057.9 596.6L1058 596.6L1058.2 429.8L1058.4 584L1059.5 584.6L1059.8 594.8L1065.2 596L1075.4 596.6L1075.5 596.6L1075.7 432.8L1075.9 584L1077 584.6L1077.2 594.8L1082.7 596L1088.5 596.6" fill="none" stroke="#000" stroke-width="2.8" stroke-linejoin="bevel"/>
<path d="M691.1 594.9L708.4 593L709 593L711.2 587.9L725.9 588.3L726.5 588.3L728.7 584.1L743.4 584.5L744 584.5L746.2 581.3L760.8 582.5L761.5 582.5L763.6 579.2L778.3 581.1L778.9 581.1L781.1 577.2L795.8 579.5L796.4 579.5L798.6 575.6L813.3 577.6L813.9 577.6L816.1 574.1L824.6 576L829.2 572.9L833.6 570.2L837.9 567.9L842.3 565.9L846.7 564.2L851 562.7L855.4 561.4L859.8 560.2L864.2 559.2L868.5 558.3L872.9 557.6L877.3 556.9L881.6 556.3L886 555.8L890.4 555.4L894.7 555L899.1 554.7L903.5 554.4L907.9 554.2L912.2 554L916.6 553.8L921 553.6L925.3 553.5L929.7 553.3L934.1 553.2L938.4 553.1L942.8 553.1L947.2 553L951.6 552.9L954.2 553.1L958.5 553.7L963.8 555.2L970.8 557.3L973 554.9L988.1 561.9L988.3 561.9L990.4 559.7L1005.6 566L1005.7 566L1007.9 563.3L1023 568.2L1023.2 568.2L1025.4 566L1040.5 570.1L1040.7 570.1L1042.9 567.2L1058 571.1L1058.2 571.1L1060.4 568.2L1075.5 572.3L1075.7 572.3L1077.8 569.1L1088.8 571.9" fill="none" stroke="#f00" stroke-width="4" stroke-linejoin="bevel"/></g>
<text class="tk" x="106.5" y="266.4" text-anchor="end">−80</text>
<text class="tk" x="106.5" y="225.3" text-anchor="end">−60</text>
<text class="tk" x="106.5" y="184.2" text-anchor="end">−40</text>
<text class="tk" x="106.5" y="143.1" text-anchor="end">−20</text>
<text class="tk" x="106.5" y="102" text-anchor="end">0</text>
<text class="tk" x="106.5" y="60.9" text-anchor="end">20</text>
<text class="tk" x="113.5" y="302.5" text-anchor="middle">0</text>
<text class="tk" x="200.8" y="302.5" text-anchor="middle">10</text>
<text class="tk" x="288.2" y="302.5" text-anchor="middle">20</text>
<text class="tk" x="375.5" y="302.5" text-anchor="middle">30</text>
<text class="tk" x="462.8" y="302.5" text-anchor="middle">40</text>
<text class="tk" x="694.5" y="247.2" text-anchor="end">0.2</text>
<text class="tk" x="694.5" y="198.1" text-anchor="end">0.4</text>
<text class="tk" x="694.5" y="149" text-anchor="end">0.6</text>
<text class="tk" x="694.5" y="99.9" text-anchor="end">0.8</text>
<text class="tk" x="694.5" y="50.8" text-anchor="end">1.0</text>
<text class="tk" x="701.5" y="302.5" text-anchor="middle">0</text>
<text class="tk" x="788.7" y="302.5" text-anchor="middle">10</text>
<text class="tk" x="875.9" y="302.5" text-anchor="middle">20</text>
<text class="tk" x="963.2" y="302.5" text-anchor="middle">30</text>
<text class="tk" x="1050.4" y="302.5" text-anchor="middle">40</text>
<text class="tk" x="125.5" y="564" text-anchor="end">800</text>
<text class="tk" x="125.5" y="506.2" text-anchor="end">900</text>
<text class="tk" x="125.5" y="448.5" text-anchor="end">1000</text>
<text class="tk" x="125.5" y="390.8" text-anchor="end">1100</text>
<text class="tk" x="132.4" y="632.5" text-anchor="middle">0</text>
<text class="tk" x="219.7" y="632.5" text-anchor="middle">10</text>
<text class="tk" x="307" y="632.5" text-anchor="middle">20</text>
<text class="tk" x="394.3" y="632.5" text-anchor="middle">30</text>
<text class="tk" x="481.6" y="632.5" text-anchor="middle">40</text>
<text class="tk" x="685" y="548" text-anchor="end">0.2</text>
<text class="tk" x="685" y="488" text-anchor="end">0.4</text>
<text class="tk" x="685" y="428" text-anchor="end">0.6</text>
<text class="tk" x="685" y="368" text-anchor="end">0.8</text>
<text class="tk" x="685" y="600" text-anchor="end">0.0</text>
<text class="tk" x="691.1" y="632.5" text-anchor="middle">0</text>
<text class="tk" x="778.5" y="632.5" text-anchor="middle">10</text>
<text class="tk" x="865.9" y="632.5" text-anchor="middle">20</text>
<text class="tk" x="953.3" y="632.5" text-anchor="middle">30</text>
<text class="tk" x="1040.7" y="632.5" text-anchor="middle">40</text>
<text class="tt" x="303.7" y="330.4" text-anchor="middle">Time (s)</text>
<text class="tt" x="897.2" y="331.3" text-anchor="middle">Time (s)</text>
<text class="tt" x="332.7" y="662.5" text-anchor="middle">Time (s)</text>
<text class="tt" x="885.8" y="662.5" text-anchor="middle">Time (s)</text>
<text class="yt" transform="translate(39.5,143) rotate(-90)" text-anchor="middle">V<tspan dy="14">m</tspan><tspan dy="-14"> (mV)</tspan></text>
<text class="yt" transform="translate(635.5,143) rotate(-90)" text-anchor="middle">[Ca<tspan dy="-13.5">2+</tspan><tspan dy="13.5">]</tspan><tspan dy="13.5">myo</tspan><tspan dy="-13.5"> (µM)</tspan></text>
<text class="yt" transform="translate(45,473) rotate(-90)" text-anchor="middle">[Ca<tspan dy="-13.5">2+</tspan><tspan dy="13.5">]</tspan><tspan dy="13.5">nsr</tspan><tspan dy="-13.5"> (µM)</tspan></text>
<text class="yt" transform="translate(626,471) rotate(-90)" text-anchor="middle">P<tspan dy="14">o,RYR</tspan></text>
<text class="pl" x="17" y="65">A</text>
<text class="pl" transform="translate(570.5,65) scale(0.94,1)">B</text>
<text class="pl" transform="translate(11.2,365.3) scale(1.047,1.075)">C</text>
<text class="pl" transform="translate(569.9,369) scale(1.127,1)">D</text>
<rect x="862.7" y="359.9" width="207" height="54.6" fill="#fff" stroke="#000" stroke-width="2.5"/>
<text x="1006.7" y="382" text-anchor="end" style="font-size:21.6px">Open State</text>
<text x="1006.7" y="403.2" text-anchor="end" style="font-size:21.6px">Adapted State</text>
<path d="M1020.5 376.1H1049" stroke="#000" stroke-width="3"/>
<path d="M1020.5 398H1049" stroke="#f00" stroke-width="3"/>
<rect x="0" y="665.5" width="1102" height="10" fill="#fff"/><rect x="0" y="665" width="1102" height="1.2" fill="#f3f3f3"/>
</svg></body></html>
